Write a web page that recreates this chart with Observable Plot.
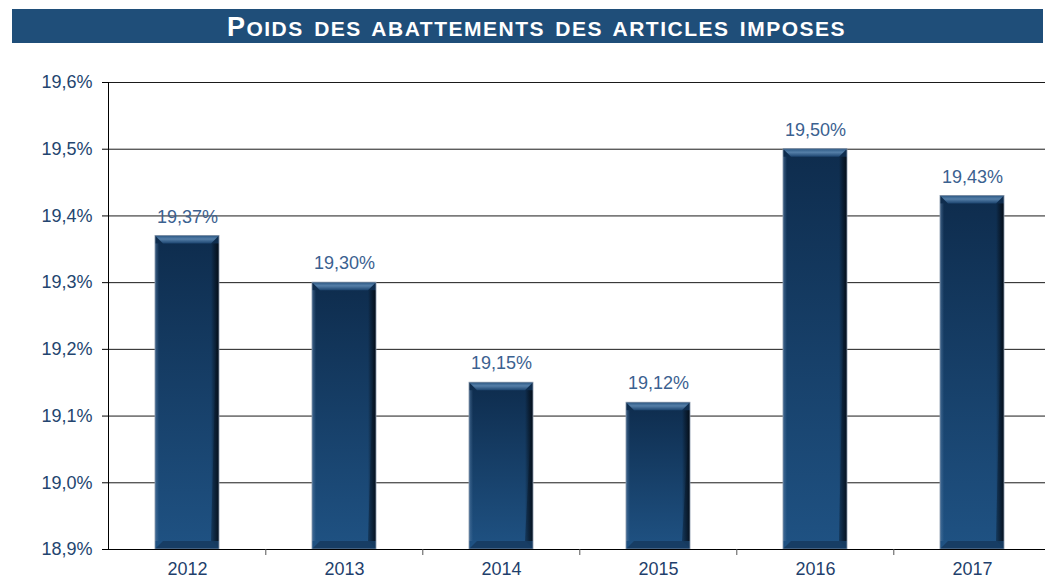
<!DOCTYPE html>
<html>
<head>
<meta charset="utf-8">
<script src="https://cdn.jsdelivr.net/npm/d3@7"></script>
<script src="https://cdn.jsdelivr.net/npm/@observablehq/plot@0.6"></script>
<style>
  html, body { margin: 0; padding: 0; background: #fff; }
  #wrap { position: relative; width: 1045px; height: 579px; overflow: hidden; font-family: "Liberation Sans", Arial, sans-serif; }
  #title { position: absolute; left: 12px; top: 9px; width: 1013px; padding-left: 18px; height: 34px; background: #1f4e79;
           color: #fff; font-weight: bold; text-align: center; line-height: 36px; white-space: nowrap;
           letter-spacing: 1.5px; word-spacing: 3px; }
  #title .big { font-size: 27px; }
  #title .sm { font-size: 21px; }
  #chart { position: absolute; left: 0; top: 0; }
</style>
</head>
<body>
<div id="wrap">
  <div id="chart"></div>
  <div id="title"><span class="big">P</span><span class="sm">OIDS DES ABATTEMENTS DES ARTICLES IMPOSES</span></div>
</div>
<script>
const years = ["2012", "2013", "2014", "2015", "2016", "2017"];
const values = [19.37, 19.30, 19.15, 19.12, 19.50, 19.43];
const yTicks = [18.9, 19.0, 19.1, 19.2, 19.3, 19.4, 19.5, 19.6];

const data = years.map((year, i) => ({year, value: values[i]}));
const fmtTick = d => d.toFixed(1).replace(".", ",") + "%";
const fmtVal = d => d.toFixed(2).replace(".", ",") + "%";

const step = (1051.7 - 107.3) / years.length;

const chart = Plot.plot({
  width: 1045,
  height: 579,
  marginLeft: 108,
  marginRight: 0,
  marginTop: 82,
  marginBottom: 30,
  style: {fontFamily: "'Liberation Sans', Arial, sans-serif", background: "transparent"},
  x: {domain: years, range: [107.3, 1051.7], paddingInner: 0.593, paddingOuter: 0.2965, align: 0.5},
  y: {domain: [18.9, 19.6]},
  marks: [
    Plot.gridY(yTicks, {stroke: "#1a1a1a", strokeOpacity: 1, strokeWidth: 1}),
    Plot.barY(data, {x: "year", y1: 18.9, y2: "value", fill: "url(#barGrad)"}),
    Plot.ruleY([18.9], {stroke: "#000", strokeWidth: 1}),
    Plot.frame({anchor: "left", stroke: "#000"}),
    Plot.ruleX(years.slice(1), {x: d => d, dx: -step / 2, y1: 18.9, y2: 18.9, insetBottom: -6, stroke: "#555"}),
    Plot.axisY(yTicks, {tickFormat: fmtTick, tickSize: 6, tickPadding: 10, fontSize: 18, fill: "#23456f", stroke: "#000", label: null}),
    Plot.axisX({tickSize: 0, tickPadding: 13, fontSize: 18, fill: "#1f3f6c", label: null}),
    Plot.text(data, {x: "year", y: "value", text: d => fmtVal(d.value), dy: -19, lineAnchor: "middle", fontSize: 18, fill: "#3b6190"})
  ]
});

document.getElementById("chart").appendChild(chart);

// gradients and bevels for the bars
const svg = d3.select(chart);
const defs = svg.insert("defs", ":first-child");
const g1 = defs.append("linearGradient").attr("id", "barGrad").attr("x1", 0).attr("y1", 0).attr("x2", 0).attr("y2", 1);
g1.append("stop").attr("offset", "0%").attr("stop-color", "#0e2c4d");
g1.append("stop").attr("offset", "100%").attr("stop-color", "#1f5283");
const g2 = defs.append("linearGradient").attr("id", "topBevel").attr("x1", 0).attr("y1", 0).attr("x2", 0).attr("y2", 1);
g2.append("stop").attr("offset", "0%").attr("stop-color", "#2a5682");
g2.append("stop").attr("offset", "45%").attr("stop-color", "#557fa8");
g2.append("stop").attr("offset", "100%").attr("stop-color", "#1d4570");
const g3 = defs.append("linearGradient").attr("id", "rightEdge").attr("x1", 0).attr("y1", 0).attr("x2", 1).attr("y2", 0);
g3.append("stop").attr("offset", "0%").attr("stop-color", "#000").attr("stop-opacity", 0);
g3.append("stop").attr("offset", "100%").attr("stop-color", "#02080f").attr("stop-opacity", 0.85);
const g4 = defs.append("linearGradient").attr("id", "leftEdge").attr("x1", 0).attr("y1", 0).attr("x2", 1).attr("y2", 0);
g4.append("stop").attr("offset", "0%").attr("stop-color", "#5a7fa6").attr("stop-opacity", 0.6);
g4.append("stop").attr("offset", "100%").attr("stop-color", "#5a7fa6").attr("stop-opacity", 0);

const barGroup = svg.select("g[aria-label='bar']");
const bev = d3.select(barGroup.node().parentNode).insert("g", function() { return barGroup.node().nextSibling; });
barGroup.selectAll("rect").each(function() {
  const r = d3.select(this);
  const x = +r.attr("x"), y = +r.attr("y"), w = +r.attr("width"), h = +r.attr("height");
  const b = 8;
  bev.append("rect").attr("x", x).attr("y", y + b).attr("width", 4).attr("height", Math.max(0, h - 2 * b)).attr("fill", "url(#leftEdge)");
  bev.append("rect").attr("x", x + w - b).attr("y", y + b).attr("width", b).attr("height", Math.max(0, h - 2 * b)).attr("fill", "url(#rightEdge)");
  bev.append("path").attr("d", `M${x},${y}L${x + w},${y}L${x + w - b},${y + b}L${x + b},${y + b}Z`).attr("fill", "url(#topBevel)");
  bev.append("path").attr("d", `M${x + b},${y + h - b}L${x + w - b},${y + h - b}L${x + w},${y + h}L${x},${y + h}Z`).attr("fill", "#173d64");
  bev.append("path").attr("d", `M${x + w - b},${y + h - b}L${x + w},${y + b}L${x + w},${y + h}Z`).attr("fill", "#06121f").attr("fill-opacity", 0.35);
  bev.append("rect").attr("x", x).attr("y", y).attr("width", w).attr("height", h).attr("fill", "none").attr("stroke", "#8797ab").attr("stroke-width", 0.8);
});
</script>
</body>
</html>
